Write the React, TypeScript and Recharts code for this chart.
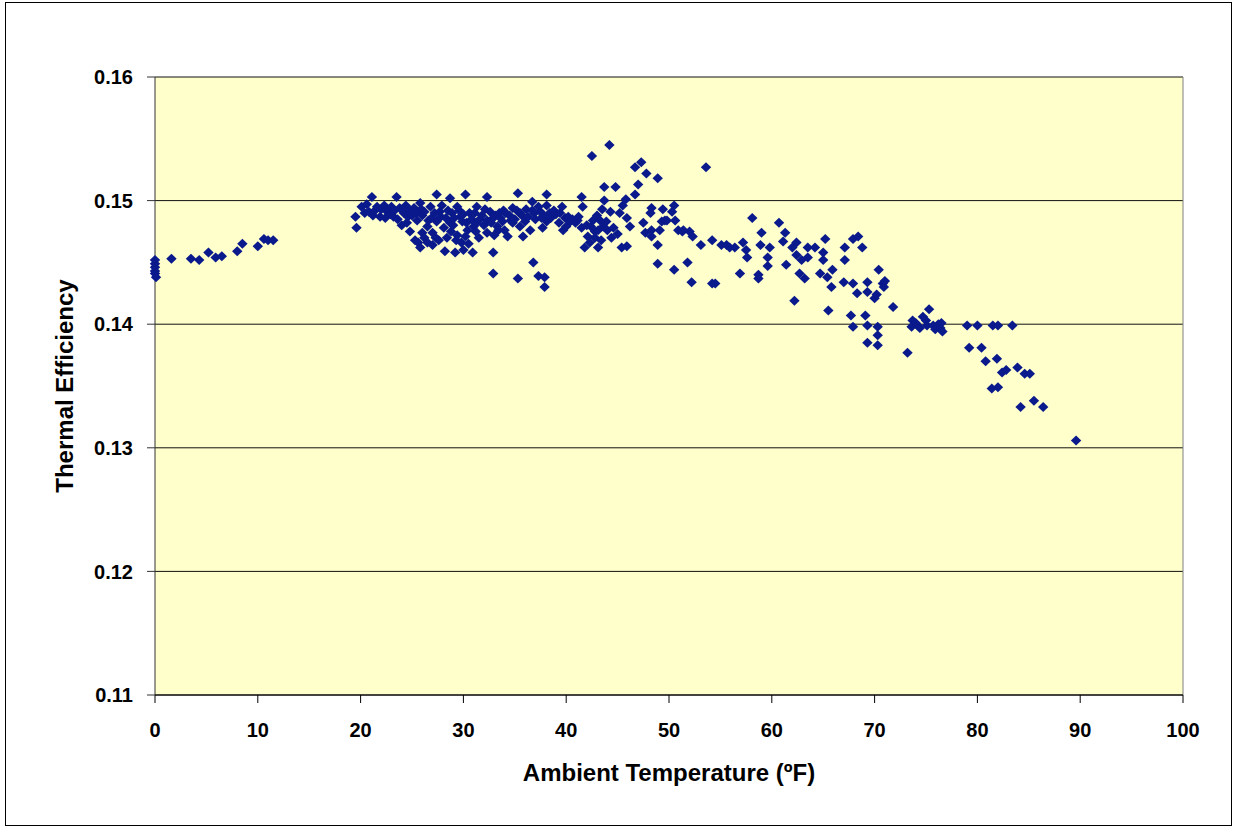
import { ScatterChart, Scatter, XAxis, YAxis, ZAxis, CartesianGrid, ReferenceLine } from "recharts";

// [ambient °F, thermal efficiency] readings, grouped by temperature band
const coldRun: [number, number][] = [
  [0, 0.1452], [0, 0.1449], [0, 0.1446], [0, 0.1443], [0, 0.1441], [0.1, 0.1438],
  [1.6, 0.1453], [3.5, 0.1453], [4.3, 0.1452], [5.2, 0.1458], [5.9, 0.1454], [6.5, 0.1455],
  [8.0, 0.1459], [8.5, 0.1465], [10.0, 0.1463], [10.6, 0.1469], [11.0, 0.1468], [11.5, 0.1468],
];

const coreBand: [number, number][] = [
  [19.5, 0.1487], [19.6, 0.1478], [20.1, 0.1495], [20.4, 0.1490], [20.6, 0.1497], [20.8, 0.1491],
  [21.1, 0.1503], [21.2, 0.1488], [21.4, 0.1492], [21.6, 0.1495], [21.9, 0.1487], [22.0, 0.1493],
  [22.3, 0.1496], [22.4, 0.1486], [22.6, 0.1491], [22.9, 0.1489], [23.0, 0.1495], [23.2, 0.1487],
  [23.3, 0.1492], [23.5, 0.1503], [23.6, 0.1485], [23.8, 0.1494], [24.0, 0.1480], [24.2, 0.1490],
  [24.4, 0.1496], [24.5, 0.1482], [24.6, 0.1487], [24.8, 0.1492], [24.8, 0.1475], [25.0, 0.1488],
  [25.2, 0.1494], [25.3, 0.1468], [25.4, 0.1490], [25.5, 0.1484], [25.6, 0.1466], [25.8, 0.1498],
  [25.8, 0.1462], [25.9, 0.1493], [26.0, 0.1488], [26.0, 0.1474], [26.2, 0.1491], [26.2, 0.1470],
  [26.5, 0.1479], [26.5, 0.1466], [26.6, 0.1484], [26.8, 0.1495], [26.9, 0.1486], [27.0, 0.1474],
  [27.0, 0.1464], [27.2, 0.1490], [27.3, 0.1470], [27.4, 0.1505], [27.4, 0.1483], [27.6, 0.1468],
  [27.7, 0.1491], [27.8, 0.1487], [27.9, 0.1496], [28.1, 0.1478], [28.2, 0.1459], [28.3, 0.1486],
  [28.4, 0.1470], [28.5, 0.1492], [28.7, 0.1502], [28.7, 0.1482], [28.8, 0.1475], [28.9, 0.1490],
  [29.0, 0.1480], [29.1, 0.1486], [29.2, 0.1458], [29.3, 0.1468], [29.4, 0.1495], [29.4, 0.1472],
  [29.6, 0.1492], [29.7, 0.1487], [29.8, 0.1466], [29.9, 0.1483], [30.0, 0.1489], [30.0, 0.1460],
  [30.2, 0.1505], [30.2, 0.1471], [30.3, 0.1482], [30.4, 0.1476], [30.5, 0.1465], [30.6, 0.1490],
  [30.8, 0.1485], [30.9, 0.1458], [31.0, 0.1479], [31.1, 0.1490], [31.2, 0.1475], [31.3, 0.1495],
  [31.3, 0.1482], [31.5, 0.1470], [31.6, 0.1485], [31.8, 0.1488], [32.0, 0.1480], [32.1, 0.1493],
  [32.3, 0.1503], [32.3, 0.1484], [32.3, 0.1474], [32.6, 0.1491], [32.7, 0.1482], [32.9, 0.1486],
  [32.9, 0.1458], [32.9, 0.1441], [33.0, 0.1472], [33.1, 0.1488], [33.3, 0.1479], [33.4, 0.1476],
  [33.5, 0.1490], [33.6, 0.1486], [33.8, 0.1483], [33.9, 0.1492], [34.0, 0.1476], [34.1, 0.1490],
  [34.3, 0.1471], [34.5, 0.1488], [34.6, 0.1484], [34.8, 0.1494], [34.8, 0.1482], [35.0, 0.1485],
  [35.2, 0.1492], [35.3, 0.1506], [35.3, 0.1437], [35.5, 0.1490], [35.5, 0.1479], [35.7, 0.1488],
  [35.8, 0.1471], [36.0, 0.1483], [36.1, 0.1493], [36.3, 0.1487], [36.5, 0.1476], [36.7, 0.1499],
  [36.7, 0.1492], [36.8, 0.1450], [36.9, 0.1490], [37.0, 0.1485], [37.3, 0.1495], [37.3, 0.1439],
  [37.5, 0.1491], [37.6, 0.1486], [37.7, 0.1478], [37.8, 0.1488], [37.9, 0.1438], [37.9, 0.1430],
  [38.1, 0.1505], [38.1, 0.1496], [38.1, 0.1483], [38.4, 0.1490], [38.5, 0.1486], [38.8, 0.1492],
  [39.0, 0.1489], [39.3, 0.1482], [39.4, 0.1490], [39.6, 0.1495], [39.7, 0.1476], [39.9, 0.1486],
  [40.0, 0.1479], [40.2, 0.1487], [40.4, 0.1483], [40.6, 0.1485], [40.9, 0.1482],
];

const midBand: [number, number][] = [
  [41.1, 0.1484], [41.2, 0.1487], [41.5, 0.1503], [41.5, 0.1478], [41.6, 0.1495], [41.8, 0.1462],
  [42.0, 0.1480], [42.1, 0.1471], [42.3, 0.1466], [42.4, 0.1479], [42.5, 0.1536], [42.6, 0.1484],
  [42.8, 0.1475], [42.8, 0.1470], [43.0, 0.1488], [43.1, 0.1476], [43.1, 0.1462], [43.3, 0.1484],
  [43.4, 0.1468], [43.5, 0.1493], [43.6, 0.1479], [43.7, 0.1511], [43.7, 0.1500], [43.9, 0.1483],
  [44.0, 0.1476], [44.2, 0.1545], [44.3, 0.1491], [44.4, 0.1470], [44.6, 0.1478], [44.8, 0.1511],
  [45.0, 0.1473], [45.2, 0.1490], [45.4, 0.1462], [45.5, 0.1496], [45.8, 0.1501], [45.9, 0.1486],
  [45.9, 0.1463], [46.2, 0.1479], [46.7, 0.1527], [46.7, 0.1505], [47.0, 0.1513], [47.3, 0.1531],
  [47.5, 0.1482], [47.7, 0.1474], [47.8, 0.1522], [48.2, 0.1490], [48.3, 0.1494], [48.3, 0.1476],
  [48.3, 0.1471], [48.9, 0.1518], [48.9, 0.1464], [48.9, 0.1449], [49.1, 0.1476], [49.3, 0.1483],
  [49.4, 0.1493], [49.6, 0.1484], [49.8, 0.1484], [50.3, 0.1491], [50.5, 0.1496], [50.5, 0.1444],
  [50.6, 0.1484], [50.9, 0.1476], [51.3, 0.1475], [51.4, 0.1476], [51.8, 0.1450], [52.0, 0.1475],
  [52.2, 0.1434], [52.3, 0.1471], [53.1, 0.1464], [53.6, 0.1527], [54.2, 0.1468], [54.2, 0.1433],
  [54.5, 0.1433], [55.1, 0.1464], [55.6, 0.1464],
];

const warmBand: [number, number][] = [
  [55.9, 0.1462], [56.4, 0.1462], [56.9, 0.1441], [57.2, 0.1466], [57.5, 0.1460], [57.6, 0.1454],
  [58.1, 0.1486], [58.7, 0.1437], [58.7, 0.1440], [58.9, 0.1464], [59.0, 0.1474], [59.6, 0.1454],
  [59.6, 0.1447], [59.8, 0.1462], [60.7, 0.1482], [61.1, 0.1467], [61.3, 0.1474], [61.4, 0.1448],
  [62.0, 0.1462], [62.2, 0.1419], [62.4, 0.1466], [62.4, 0.1456], [62.7, 0.1441], [62.9, 0.1452],
  [63.2, 0.1437], [63.5, 0.1454], [63.5, 0.1462], [64.2, 0.1462], [64.7, 0.1441], [65.0, 0.1458],
  [65.0, 0.1452], [65.2, 0.1469], [65.4, 0.1438], [65.5, 0.1411], [65.8, 0.1430], [65.9, 0.1444],
  [67.0, 0.1434], [67.1, 0.1462], [67.1, 0.1452], [67.7, 0.1407], [67.9, 0.1469], [67.9, 0.1433],
  [67.9, 0.1398], [68.3, 0.1425], [68.4, 0.1471], [68.8, 0.1462], [69.1, 0.1407], [69.3, 0.1434],
  [69.3, 0.1426], [69.3, 0.1399], [69.3, 0.1385], [70.0, 0.1421], [70.2, 0.1424], [70.3, 0.1398],
  [70.3, 0.1391], [70.3, 0.1383], [70.4, 0.1444], [70.8, 0.1433], [70.9, 0.1430], [71.0, 0.1435],
  [71.8, 0.1414],
];

const hotBand: [number, number][] = [
  [73.2, 0.1377], [73.6, 0.1398], [73.7, 0.1403], [74.0, 0.1401], [74.2, 0.1399], [74.4, 0.1397],
  [74.7, 0.1406], [75.0, 0.1403], [75.1, 0.1399], [75.3, 0.1412], [75.7, 0.1399], [75.9, 0.1396],
  [76.2, 0.1400], [76.4, 0.1397], [76.5, 0.1401], [76.6, 0.1394], [79.0, 0.1399], [79.2, 0.1381],
  [80.0, 0.1399], [80.4, 0.1381], [80.8, 0.1370], [81.4, 0.1348], [81.5, 0.1399], [81.9, 0.1372],
  [82.0, 0.1349], [82.0, 0.1399], [82.4, 0.1361], [82.8, 0.1363], [83.4, 0.1399], [83.9, 0.1365],
  [84.2, 0.1333], [84.6, 0.1360], [85.1, 0.1360], [85.5, 0.1338], [86.4, 0.1333], [89.6, 0.1306],
];

const xTicks = [0, 10, 20, 30, 40, 50, 60, 70, 80, 90, 100];
const yTicks = [0.11, 0.12, 0.13, 0.14, 0.15, 0.16];

const points = [...coldRun, ...coreBand, ...midBand, ...warmBand, ...hotBand].map(([temp, eff]) => ({ temp, eff }));

const FONT = "'Liberation Sans', Arial, sans-serif";
const MARKER = "#0a1a8c";

// Excel-style square diamond marker
const Diamond = (props: any) => {
  const { cx, cy } = props;
  if (cx == null || cy == null) return null;
  const w = 5.2;
  const h = 5;
  return <path d={`M${cx},${cy - h}L${cx + w},${cy}L${cx},${cy + h}L${cx - w},${cy}Z`} fill={MARKER} />;
};

const YTitle = ({ viewBox }: any) => {
  const x = viewBox.x + 64;
  const y = viewBox.y + viewBox.height / 2;
  return (
    <text x={x} y={y} transform={`rotate(-90 ${x} ${y})`} textAnchor="middle" dominantBaseline="central"
      fontFamily={FONT} fontWeight={700} fontSize={24} fill="#000">
      Thermal Efficiency
    </text>
  );
};

const XTitle = ({ viewBox }: any) => {
  const x = viewBox.x + viewBox.width / 2;
  return (
    <text x={x} y={781} textAnchor="middle" fontFamily={FONT} fontWeight={700} fontSize={24} fill="#000">
      Ambient Temperature (ºF)
    </text>
  );
};

const tickStyle = { fill: "#000", fontSize: 20, fontWeight: 700, fontFamily: FONT };

export default function App() {
  return (
    <div style={{ position: "relative", width: 1236, height: 828, background: "#fff" }}>
      <style>{"body{margin:0}"}</style>
      <div style={{ position: "absolute", left: 5, top: 2, width: 1225, height: 822, border: "1px solid #000" }} />
      <div style={{ position: "absolute", left: 0, top: 0 }}>
        <ScatterChart width={1236} height={828} margin={{ top: 77, right: 53, bottom: 103, left: 0 }}>
          <CartesianGrid vertical={false} stroke="#111" fill="#FFFFCC" fillOpacity={1} />
          <XAxis
            type="number"
            dataKey="temp"
            domain={[0, 100]}
            ticks={xTicks}
            height={30}
            tickSize={8}
            tickMargin={20}
            stroke="#000"
            tick={tickStyle}
            label={<XTitle />}
          />
          <YAxis
            type="number"
            dataKey="eff"
            domain={[0.11, 0.16]}
            ticks={yTicks}
            width={155}
            tickSize={8}
            tickMargin={14}
            stroke="#333"
            tick={tickStyle}
            tickFormatter={(v: number) => v.toFixed(2)}
            label={<YTitle />}
          />
          <ZAxis range={[60, 60]} />
          <ReferenceLine x={100} stroke="#808080" />
          <Scatter data={points} shape={<Diamond />} isAnimationActive={false} />
        </ScatterChart>
      </div>
    </div>
  );
}
